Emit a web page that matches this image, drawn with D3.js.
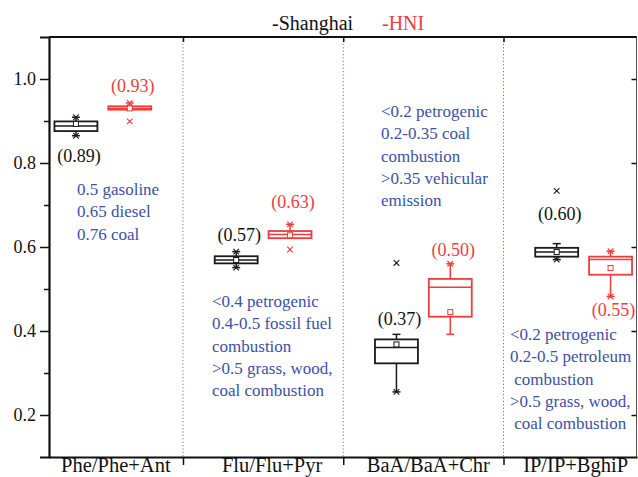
<!DOCTYPE html>
<html>
<head>
<meta charset="utf-8">
<script src="https://cdn.jsdelivr.net/npm/d3@7"></script>
<style>
  body { margin: 0; background: #fff; }
  svg, svg text { font-family: "Liberation Serif", "Tinos", "Times New Roman", "DejaVu Serif", serif !important; }
</style>
</head>
<body>
<svg width="638" height="477"></svg>
<script>
// categories and the two sites
var categories = ["Phe/Phe+Ant", "Flu/Flu+Pyr", "BaA/BaA+Chr", "IP/IP+BghiP"];
var sites = ["Shanghai", "HNI"];

// [whiskerLow, q1, median, q3, whiskerHigh]
var shanghaiBox = [
  [0.865, 0.876, 0.888, 0.899, 0.909],
  [0.551, 0.561, 0.569, 0.578, 0.589],
  [0.255, 0.323, 0.361, 0.380, 0.392],
  [0.570, 0.577, 0.588, 0.598, 0.608]
];
var shanghaiMean = [0.893, 0.569, 0.368, 0.588];
var shanghaiMin = [0.865, 0.551, 0.255, 0.570];
var shanghaiMax = [0.909, 0.589, 0.562, 0.7335];
var shanghaiLabel = [0.89, 0.57, 0.37, 0.60];

var hniBox = [
  [0.927, 0.927, 0.930, 0.935, 0.943],
  [0.621, 0.621, 0.630, 0.638, 0.654],
  [0.392, 0.434, 0.504, 0.524, 0.560],
  [0.482, 0.534, 0.570, 0.577, 0.590]
];
var hniMean = [0.930, 0.628, 0.445, 0.550];
var hniMin = [0.899, 0.594, null, 0.482];
var hniMax = [0.943, 0.654, 0.560, 0.590];
var hniLabel = [0.93, 0.63, 0.50, 0.55];

var yTicks = [0.2, 0.4, 0.6, 0.8, 1.0];
var yMinor = [0.3, 0.5, 0.7, 0.9];

var notes = [
  ["0.5 gasoline", "0.65 diesel", "0.76 coal"],
  ["<0.4 petrogenic", "0.4-0.5 fossil fuel", "combustion", ">0.5 grass, wood,", "coal combustion"],
  ["<0.2 petrogenic", "0.2-0.35 coal", "combustion", ">0.35 vehicular", "emission"],
  ["<0.2 petrogenic", "0.2-0.5 petroleum", " combustion", ">0.5 grass, wood,", " coal combustion"]
];

var serif = "'Liberation Serif', Tinos, 'Times New Roman', 'DejaVu Serif', serif";
var svg = d3.select("svg").attr("font-family", serif);
var margins = { top: 37, bottom: 20, left: 49, right: 1 };
var W = +svg.attr("width"), H = +svg.attr("height");

var x = d3.scaleLinear([0.664, 4.333], [margins.left, W - margins.right]);
var y = d3.scaleLinear([0.1, 1.1], [H - margins.bottom, margins.top]);

var colors = { Shanghai: "#1a1a1a", HNI: "#f23b3b" };
var blue = "#3d50a6";
var dodge = 0.168, halfW = 0.134;

// dotted separators between groups
[1.5, 2.5, 3.5].forEach(function (b) {
  svg.append("line")
    .attr("x1", x(b)).attr("x2", x(b))
    .attr("y1", y(1.1)).attr("y2", y(0.1))
    .attr("stroke", "#6070d0").attr("stroke-width", 1)
    .attr("stroke-dasharray", "1.2,2.2");
});

// frame
svg.append("line").attr("x1", x(0.664)).attr("x2", x(4.333)).attr("y1", y(1.1)).attr("y2", y(1.1))
  .attr("stroke", "#111").attr("stroke-width", 2);
svg.append("line").attr("x1", x(4.333) - 0.5).attr("x2", x(4.333) - 0.5).attr("y1", y(1.1)).attr("y2", y(0.1))
  .attr("stroke", "#555").attr("stroke-width", 1);

// y axis
var yAxis = svg.append("g")
  .attr("transform", "translate(" + margins.left + ",0)")
  .call(d3.axisLeft(y).tickValues(yTicks).tickFormat(d3.format(".1f")).tickSize(9).tickPadding(4));
yAxis.attr("font-family", serif);
yAxis.select(".domain").attr("stroke", "#111").attr("stroke-width", 2.2);
yAxis.selectAll(".tick line").attr("stroke", "#111").attr("stroke-width", 1.5);
yAxis.selectAll(".tick text").style("font-family", serif).style("font-size", "18px").attr("fill", "#111");
var yMinorAxis = svg.append("g")
  .attr("transform", "translate(" + margins.left + ",0)")
  .call(d3.axisLeft(y).tickValues(yMinor).tickFormat("").tickSize(5));
yMinorAxis.select(".domain").remove();
yMinorAxis.selectAll(".tick line").attr("stroke", "#111").attr("stroke-width", 1.5);

// right axis inward ticks
var yRight = svg.append("g")
  .attr("transform", "translate(" + (x(4.333) - 0.5) + ",0)")
  .call(d3.axisLeft(y).tickValues(yTicks).tickFormat("").tickSize(-5).tickSizeOuter(0));
yRight.select(".domain").remove();
yRight.selectAll(".tick line").attr("x2", -5).attr("stroke", "#111").attr("stroke-width", 1.5);

// x axis with ticks at the group boundaries
var xAxis = svg.append("g")
  .attr("transform", "translate(0," + y(0.1) + ")")
  .call(d3.axisBottom(x).tickValues([1.5, 2.5, 3.5]).tickFormat("").tickSize(8).tickSizeOuter(0));
xAxis.select(".domain").attr("stroke", "#111").attr("stroke-width", 2.2);
xAxis.selectAll(".tick line").attr("stroke", "#111").attr("stroke-width", 1.5);
var xTop = svg.append("g")
  .attr("transform", "translate(0," + y(1.1) + ")")
  .call(d3.axisBottom(x).tickValues([1.5, 2.5, 3.5]).tickFormat("").tickSize(5).tickSizeOuter(0));
xTop.select(".domain").remove();
xTop.selectAll(".tick line").attr("stroke", "#111").attr("stroke-width", 1.5);

var labelShift = [13, 9, 5, -8];
svg.append("g").selectAll("text").data(categories).join("text")
  .attr("x", function (d, i) { return x(i + 1) + labelShift[i]; })
  .attr("y", H - 5)
  .attr("text-anchor", "middle")
  .style("font-family", serif)
  .style("font-size", "20.5px")
  .attr("fill", "#111")
  .text(function (d) { return d; });

// boxes
var siteData = {
  Shanghai: { box: shanghaiBox, mean: shanghaiMean, min: shanghaiMin, max: shanghaiMax, label: shanghaiLabel },
  HNI: { box: hniBox, mean: hniMean, min: hniMin, max: hniMax, label: hniLabel }
};
var labelDy = { Shanghai: [26, -11, -9, -24], HNI: [-11, -16, -8, 19] };

function cross(g, cx, cy, color) {
  var s = 2.8;
  g.append("path")
    .attr("d", "M" + (cx - s) + "," + (cy - s) + "L" + (cx + s) + "," + (cy + s) +
      "M" + (cx - s) + "," + (cy + s) + "L" + (cx + s) + "," + (cy - s))
    .attr("stroke", color).attr("stroke-width", 1.1).attr("fill", "none");
}

sites.forEach(function (site, si) {
  var d = siteData[site];
  var color = colors[site];
  var g = svg.append("g");
  categories.forEach(function (c, i) {
    var cx = x(i + 1) + (si === 0 ? -1 : 1) * (x(dodge) - x(0));
    var hw = x(halfW) - x(0);
    var b = d.box[i];
    // whiskers
    g.append("line").attr("x1", cx).attr("x2", cx).attr("y1", y(b[0])).attr("y2", y(b[1]))
      .attr("stroke", color).attr("stroke-width", 1.5);
    g.append("line").attr("x1", cx).attr("x2", cx).attr("y1", y(b[3])).attr("y2", y(b[4]))
      .attr("stroke", color).attr("stroke-width", 1.5);
    [b[0], b[4]].forEach(function (v) {
      g.append("line").attr("x1", cx - 4).attr("x2", cx + 4).attr("y1", y(v)).attr("y2", y(v))
        .attr("stroke", color).attr("stroke-width", 1.5);
    });
    // box
    g.append("rect")
      .attr("x", cx - hw).attr("width", 2 * hw)
      .attr("y", y(b[3])).attr("height", y(b[1]) - y(b[3]))
      .attr("fill", "#fff").attr("stroke", color).attr("stroke-width", 1.8);
    g.append("line").attr("x1", cx - hw).attr("x2", cx + hw).attr("y1", y(b[2])).attr("y2", y(b[2]))
      .attr("stroke", color).attr("stroke-width", 1.5);
    // mean
    g.append("rect").attr("x", cx - 2.5).attr("y", y(d.mean[i]) - 2.5).attr("width", 5).attr("height", 5)
      .attr("fill", "#fff").attr("stroke", color).attr("stroke-width", 1);
    // min / max
    if (d.min[i] != null) cross(g, cx, y(d.min[i]), color);
    if (d.max[i] != null) cross(g, cx, y(d.max[i]), color);
    // value label
    var anchorV = labelDy[site][i] > 0 ? d.min[i] : b[4];
    g.append("text")
      .attr("x", cx + 3)
      .attr("y", y(anchorV) + labelDy[site][i])
      .attr("text-anchor", "middle")
      .style("font-family", serif)
      .style("font-size", "18px")
      .attr("fill", site === "HNI" ? "#f03c3c" : "#111")
      .text("(" + d3.format(".2f")(d.label[i]) + ")");
  });
});

// source annotations
var noteX = [77, 212, 381, 510];
var noteY = [195, 307, 117, 340];
notes.forEach(function (lines, i) {
  var t = svg.append("text")
    .attr("x", noteX[i]).attr("y", noteY[i])
    .style("font-family", serif)
    .style("font-size", "17px").style("white-space", "pre")
    .attr("fill", blue);
  lines.forEach(function (l, j) {
    t.append("tspan").attr("x", noteX[i]).attr("dy", j === 0 ? 0 : 22.3).text(l);
  });
});

// legend
svg.append("text").attr("x", 272).attr("y", 30).style("font-family", serif).style("font-size", "20px").attr("fill", "#111").text("-Shanghai");
svg.append("text").attr("x", 382).attr("y", 30).style("font-family", serif).style("font-size", "20px").attr("fill", "#f03c3c").text("-HNI");
</script>
</body>
</html>
